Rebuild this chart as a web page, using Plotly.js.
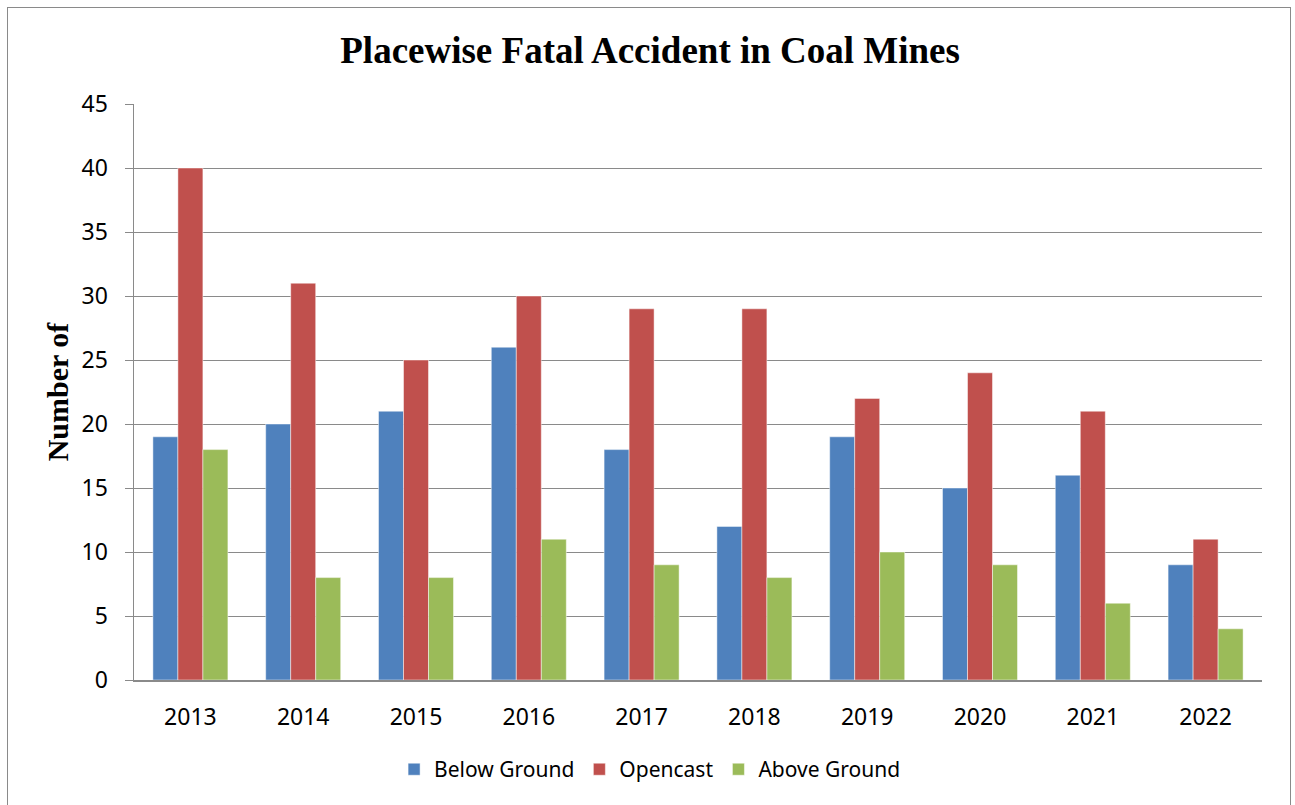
<!DOCTYPE html>
<html>
<head>
<meta charset="utf-8">
<script src="https://cdn.plot.ly/plotly-3.0.1.min.js"></script>
<style>
  body { margin: 0; background: #fff; }
  #chart { position: absolute; left: 0; top: 0; width: 1295px; height: 805px; }
  #frame { position: absolute; left: 7px; top: 7px; width: 1282px; height: 820px;
           border: 1.5px solid #8a8a8a; pointer-events: none; }
</style>
</head>
<body>
<div id="chart"></div>
<div id="frame"></div>
<script>
// Placewise fatal accidents
var years = ['2013', '2014', '2015', '2016', '2017', '2018', '2019', '2020', '2021', '2022'];
var belowGround = [19, 20, 21, 26, 18, 12, 19, 15, 16, 9];
var opencast    = [40, 31, 25, 30, 29, 29, 22, 24, 21, 11];
var aboveGround = [18, 8, 8, 11, 9, 8, 10, 9, 6, 4];

function bars(name, vals, color) {
  return {
    x: years,
    y: vals,
    name: name,
    type: 'bar',
    marker: { color: color, line: { color: 'rgba(255,255,255,0.6)', width: 0.8 } },
    hoverinfo: 'x+y+name'
  };
}

var data = [
  bars('Below Ground', belowGround, '#4F81BD'),
  bars('Opencast', opencast, '#C0504D'),
  bars('Above Ground', aboveGround, '#9BBB59')
];

var layout = {
  width: 1295,
  height: 805,
  paper_bgcolor: '#fff',
  plot_bgcolor: '#fff',
  margin: { l: 134, r: 33, t: 104, b: 125 },
  barmode: 'group',
  bargap: 0.335,
  bargroupgap: 0,
  font: { family: 'Noto Sans, Open Sans, sans-serif', size: 21, color: '#000' },
  title: {
    text: '<b>Placewise Fatal Accident in Coal Mines</b>',
    font: { family: 'Liberation Serif, Times New Roman, serif', size: 37, color: '#000' },
    xref: 'container', x: 0.502, xanchor: 'center',
    yref: 'container', y: 0.938, yanchor: 'middle'
  },
  xaxis: {
    type: 'category',
    showgrid: false,
    showline: true,
    linecolor: '#8a8a8a',
    linewidth: 1.5,
    ticks: '',
    ticklabelstandoff: 16,
    tickfont: { size: 23 }
  },
  yaxis: {
    range: [0, 45],
    dtick: 5,
    showgrid: true,
    gridcolor: '#8a8a8a',
    gridwidth: 1,
    zeroline: false,
    showline: true,
    linecolor: '#8a8a8a',
    linewidth: 1.5,
    ticks: 'outside',
    ticklen: 8,
    tickcolor: '#8a8a8a',
    ticklabelstandoff: 12,
    tickfont: { size: 23 },
    title: {
      text: '<b>Number of</b>',
      font: { family: 'Liberation Serif, Times New Roman, serif', size: 30, color: '#000' },
      standoff: 4
    }
  },
  showlegend: true,
  legend: {
    orientation: 'h',
    xref: 'container', x: 0.502, xanchor: 'center',
    yref: 'container', y: 0.044, yanchor: 'middle',
    font: { size: 21 },
    itemwidth: 30
  }
};

Plotly.newPlot('chart', data, layout, { displayModeBar: false, staticPlot: true });
</script>
</body>
</html>
